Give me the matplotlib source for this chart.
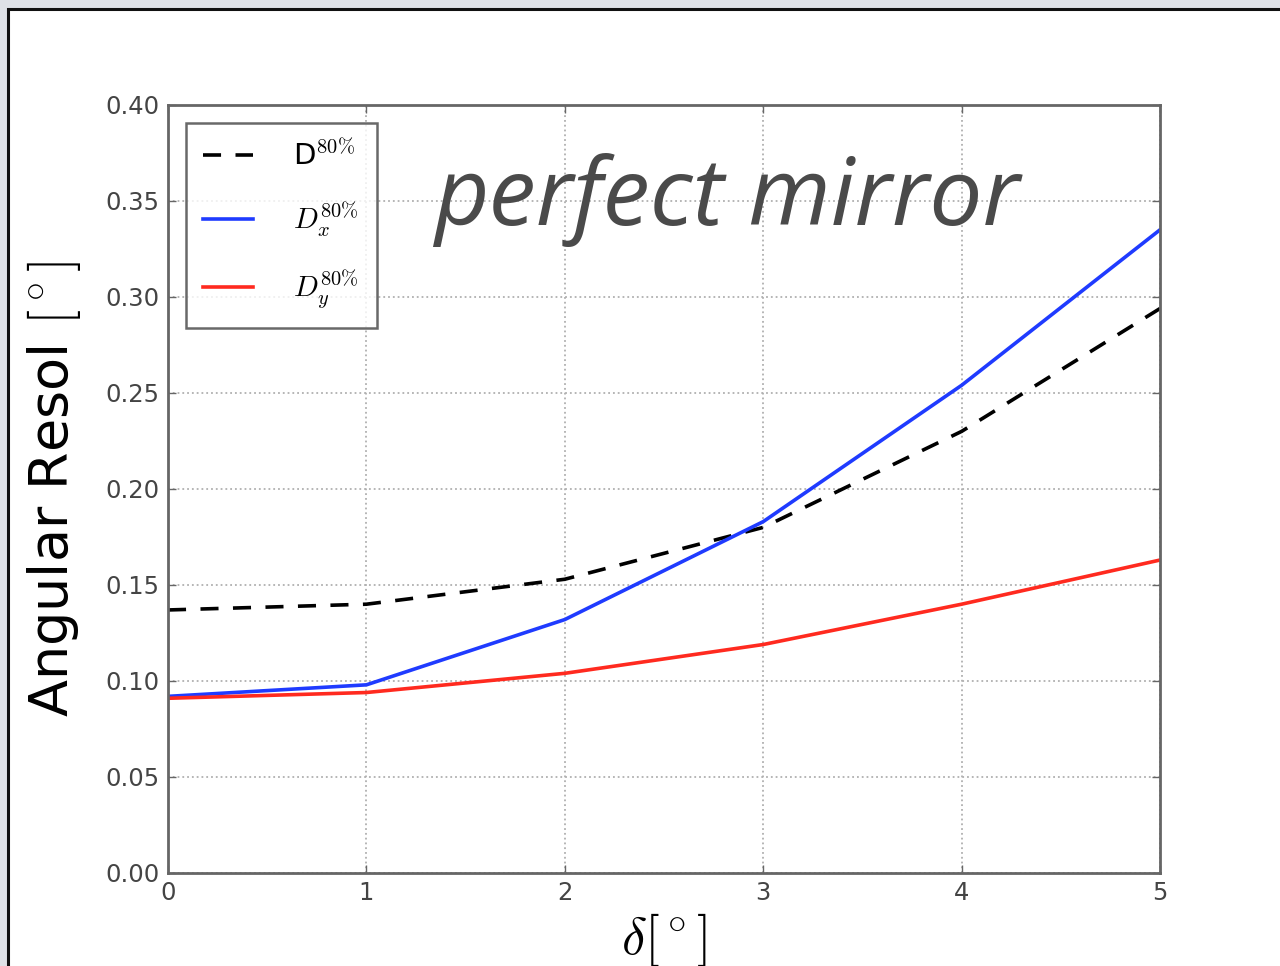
import matplotlib
matplotlib.use("Agg")
import matplotlib.pyplot as plt
from matplotlib.patches import Rectangle

plt.rcParams['mathtext.fontset'] = 'cm'
plt.rcParams['font.family'] = ['DejaVu Sans']

# angular offset of the source (degrees)
delta = [0, 1, 2, 3, 4, 5]

# 80% containment diameters
d80 = [0.137, 0.140, 0.153, 0.180, 0.230, 0.294]
d80_x = [0.092, 0.098, 0.132, 0.183, 0.254, 0.335]
d80_y = [0.091, 0.094, 0.104, 0.119, 0.140, 0.163]

labels = [r'D$^{80\%}$', r'$D_x^{80\%}$', r'$D_y^{80\%}$']

fig = plt.figure(figsize=(12.8, 9.66), dpi=100)
fig.patch.set_facecolor('#dfe2e7')

# white panel with dark frame, behind the axes
panel = Rectangle((8 / 1280, -0.05), 1.1, 1 - 9 / 966 + 0.05,
                  transform=fig.transFigure, facecolor='white',
                  edgecolor='#111111', linewidth=2.2, zorder=-10)
fig.add_artist(panel)

ax = fig.add_axes([168 / 1280, 1 - 873 / 966, (1160 - 168) / 1280, (873 - 105) / 966])

ax.plot(delta, d80, '--', color='black', lw=2.6, dashes=(5, 4), label=labels[0])
ax.plot(delta, d80_x, '-', color='#1f3bff', lw=2.6, label=labels[1])
ax.plot(delta, d80_y, '-', color='#ff2a1f', lw=2.6, label=labels[2])

ax.set_xlim(0, 5)
ax.set_ylim(0, 0.40)
ax.set_xticks(delta)
ax.set_yticks([0.0, 0.05, 0.10, 0.15, 0.20, 0.25, 0.30, 0.35, 0.40])
ax.set_yticklabels(['%.2f' % v for v in ax.get_yticks()])

ax.grid(True, linestyle=':', color='#b0b0b0', lw=1.3)
ax.tick_params(direction='in', top=True, right=True, length=6, width=1,
               colors='#666666', labelcolor='#444444', labelsize=17.5, pad=6)
for s in ax.spines.values():
    s.set_color('#666666')
    s.set_linewidth(2)

ax.set_ylabel(r'Angular Resol $[^\circ]$', fontsize=39, labelpad=16)
ax.set_xlabel(r'$\delta[^\circ]$', fontsize=38, labelpad=4)

leg = ax.legend(loc='upper left', fontsize=21, labelspacing=1.0,
                handlelength=1.7, handletextpad=1.4, borderpad=0.6,
                borderaxespad=0.6, fancybox=False)
leg.get_frame().set_edgecolor('#444444')
leg.get_frame().set_linewidth(1.8)

ax.text(0.563, 0.876, 'perfect mirror', transform=ax.transAxes,
        fontsize=68, fontstyle='italic', family='Open Sans',
        color='#4a4a4a', ha='center', va='center')

fig.savefig('out.png', dpi=100, facecolor=fig.get_facecolor())
